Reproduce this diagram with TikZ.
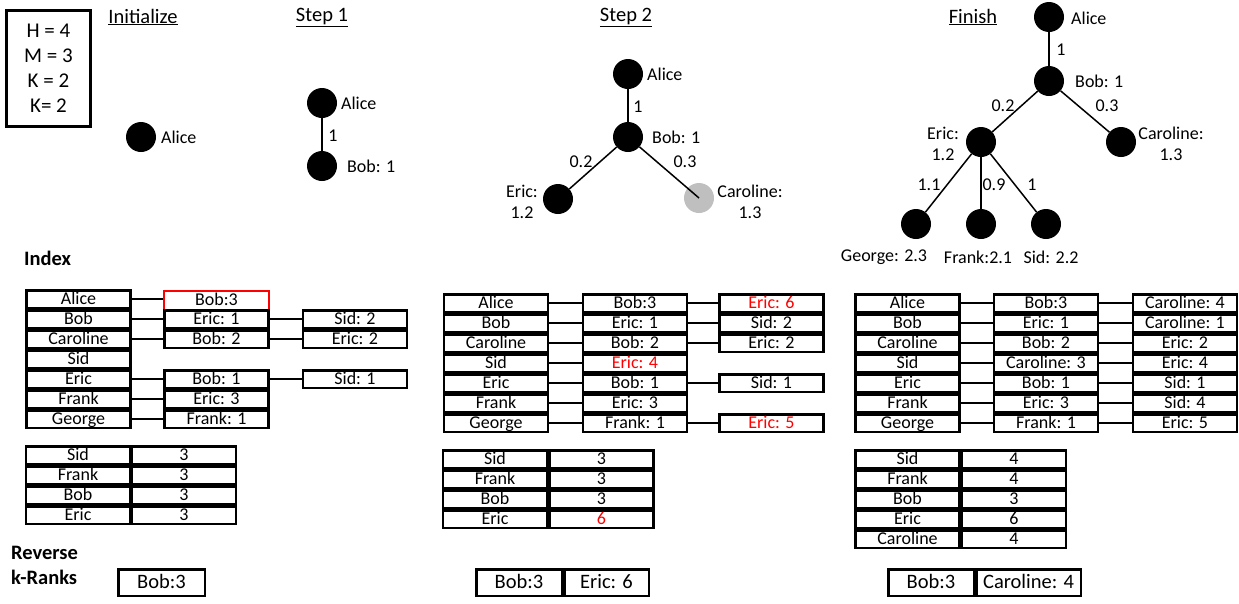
\documentclass[tikz,border=0pt]{standalone}
\usepackage{fontspec}
\setmainfont{Carlito}
\usepackage{xcolor}

\begin{document}
\begin{tikzpicture}[x=1pt, y=-1pt,
	dot/.style={circle, fill=black, minimum size=30pt, inner sep=0pt},
	lbl/.style={font=\fontsize{18}{21}\selectfont, inner sep=1pt, align=center},
	title/.style={font=\fontsize{20.5}{24}\selectfont, inner sep=0pt},
	cell/.style={draw, line width=2.5pt, minimum width=104pt, minimum height=17.5pt, inner sep=0pt,
		text height=12pt, text depth=1pt, font=\fontsize{18}{20}\selectfont},
	hit/.style={cell, draw=red, line width=2pt, minimum width=105pt, minimum height=19pt},
	rank/.style={draw, line width=2.5pt, minimum height=26.5pt, inner sep=0pt,
		text height=13pt, text depth=1pt, font=\fontsize{20.5}{24}\selectfont},
	link/.style={line width=1.2pt},
	edge/.style={line width=1.5pt}]
\useasboundingbox (0,0) rectangle (1239,603);

% parameters and titles
\node[draw, line width=3pt, minimum width=84pt, minimum height=116pt, align=center,
	font=\fontsize{21}{25}\selectfont] (par) at (48.5,68.5) {H = 4\\M = 3\\K = 2\\K= 2};
\node[title] (tinit) at (143,17) {\underline{Initialize}};
\node[title] (tone) at (322,17) {\underline{Step 1}};
\node[title] (ttwo) at (626,17) {\underline{Step 2}};
\node[title] (tfin) at (973,17) {\underline{Finish}};

% Initialize
\node[dot] (ia) at (141,137) {};
\node[lbl, anchor=west] (ial) at (160,137) {Alice};

% Step 1
\node[dot] (oa) at (322,103) {};
\node[dot] (ob) at (322,166) {};
\draw[edge] (oa) -- (ob);
\node[lbl] (oab) at (333,136) {1};
\node[lbl, anchor=west] (oal) at (340,103) {Alice};
\node[lbl, anchor=west] (obl) at (346,166) {Bob: 1};

% Step 2
\node[dot] (sa) at (628,74) {};
\node[dot] (sb) at (628,137) {};
\node[dot] (se) at (558,199) {};
\node[dot, fill=black!25] (sc) at (699,198) {};
\draw[edge] (sa) -- (sb);
\draw[edge] (sb) -- (se);
\draw[edge] (sb) -- (sc.center);
\node[lbl] (sab) at (638,107) {1};
\node[lbl] (sbe) at (581,162) {0.2};
\node[lbl] (sbc) at (685,162) {0.3};
\node[lbl, anchor=west] (sal) at (646,74) {Alice};
\node[lbl, anchor=west] (sbl) at (651,137) {Bob: 1};
\node[lbl] (sel) at (522,202) {Eric:\\1.2};
\node[lbl] (scl) at (750,202) {Caroline:\\1.3};

% Finish
\node[dot] (fa) at (1049,17) {};
\node[dot] (fb) at (1049,81) {};
\node[dot] (fe) at (981,142) {};
\node[dot] (fc) at (1121,142) {};
\node[dot] (fg) at (916,224) {};
\node[dot] (ff) at (981,224) {};
\node[dot] (fs) at (1046,224) {};
\draw[edge] (fa) -- (fb);
\draw[edge] (fb) -- (fe);
\draw[edge] (fb) -- (fc);
\draw[edge] (fe) -- (fg);
\draw[edge] (fe) -- (ff);
\draw[edge] (fe) -- (fs);
\node[lbl] (fab) at (1061,50) {1};
\node[lbl] (fbe) at (1003,106) {0.2};
\node[lbl] (fbc) at (1107,106) {0.3};
\node[lbl] (feg) at (929,185) {1.1};
\node[lbl] (fef) at (994,185) {0.9};
\node[lbl] (fes) at (1032,185) {1};
\node[lbl, anchor=west] (fal) at (1070,18) {Alice};
\node[lbl, anchor=west] (fbl) at (1074,81) {Bob: 1};
\node[lbl] (fel) at (943,144) {Eric:\\1.2};
\node[lbl] (fcl) at (1171,144) {Caroline:\\1.3};
\node[lbl] (fgl) at (884,257) {George: 2.3};
\node[lbl] (ffl) at (978,257) {Frank:2.1};
\node[lbl] (fsl) at (1051,257) {Sid: 2.2};

% Index
\node[title, font=\fontsize{20.5}{24}\selectfont\bfseries, anchor=west] (idx) at (24,258) {Index};

% index after Initialize
\node[cell] (in1) at (78.5,299) {Alice};
\node[cell] (in2) at (78.5,319) {Bob};
\node[cell] (in3) at (78.5,339) {Caroline};
\node[cell] (in4) at (78.5,359) {Sid};
\node[cell] (in5) at (78.5,379) {Eric};
\node[cell] (in6) at (78.5,399) {Frank};
\node[cell] (in7) at (78.5,419) {George};
\node[hit] (im1) at (216.5,300) {Bob:3};
\node[cell] (im2) at (216.5,319) {Eric: 1};
\node[cell] (im3) at (216.5,339) {Bob: 2};
\node[cell] (im5) at (216.5,379) {Bob: 1};
\node[cell] (im6) at (216.5,399) {Eric: 3};
\node[cell] (im7) at (216.5,419) {Frank: 1};
\node[cell] (ir2) at (355,319) {Sid: 2};
\node[cell] (ir3) at (355,339) {Eric: 2};
\node[cell] (ir5) at (355,379) {Sid: 1};
\draw[link] (in1.east) -- (im1.west |- in1.east);
\draw[link] (in2) -- (im2);
\draw[link] (in3) -- (im3);
\draw[link] (in5) -- (im5);
\draw[link] (in6) -- (im6);
\draw[link] (in7) -- (im7);
\draw[link] (im2) -- (ir2);
\draw[link] (im3) -- (ir3);
\draw[link] (im5) -- (ir5);

% index after Step 2
\node[cell] (sn1) at (496,303) {Alice};
\node[cell] (sn2) at (496,323) {Bob};
\node[cell] (sn3) at (496,343) {Caroline};
\node[cell] (sn4) at (496,363) {Sid};
\node[cell] (sn5) at (496,383) {Eric};
\node[cell] (sn6) at (496,403) {Frank};
\node[cell] (sn7) at (496,423) {George};
\node[cell] (sm1) at (635,303) {Bob:3};
\node[cell] (sm2) at (635,323) {Eric: 1};
\node[cell] (sm3) at (635,343) {Bob: 2};
\node[cell] (sm4) at (635,363) {\textcolor{red}{Eric: 4}};
\node[cell] (sm5) at (635,383) {Bob: 1};
\node[cell] (sm6) at (635,403) {Eric: 3};
\node[cell] (sm7) at (635,423) {Frank: 1};
\node[cell] (sr1) at (771.5,303) {\textcolor{red}{Eric: 6}};
\node[cell] (sr2) at (771.5,323) {Sid: 2};
\node[cell] (sr3) at (771.5,343) {Eric: 2};
\node[cell] (sr5) at (771.5,383) {Sid: 1};
\node[cell] (sr7) at (771.5,423) {\textcolor{red}{Eric: 5}};
\draw[link] (sn1) -- (sm1);
\draw[link] (sn2) -- (sm2);
\draw[link] (sn3) -- (sm3);
\draw[link] (sn4) -- (sm4);
\draw[link] (sn5) -- (sm5);
\draw[link] (sn6) -- (sm6);
\draw[link] (sn7) -- (sm7);
\draw[link] (sm1) -- (sr1);
\draw[link] (sm2) -- (sr2);
\draw[link] (sm3) -- (sr3);
\draw[link] (sm5) -- (sr5);
\draw[link] (sm7) -- (sr7);

% index at Finish
\node[cell] (fn1) at (907.5,303) {Alice};
\node[cell] (fn2) at (907.5,323) {Bob};
\node[cell] (fn3) at (907.5,343) {Caroline};
\node[cell] (fn4) at (907.5,363) {Sid};
\node[cell] (fn5) at (907.5,383) {Eric};
\node[cell] (fn6) at (907.5,403) {Frank};
\node[cell] (fn7) at (907.5,423) {George};
\node[cell] (fm1) at (1046,303) {Bob:3};
\node[cell] (fm2) at (1046,323) {Eric: 1};
\node[cell] (fm3) at (1046,343) {Bob: 2};
\node[cell] (fm4) at (1046,363) {Caroline: 3};
\node[cell] (fm5) at (1046,383) {Bob: 1};
\node[cell] (fm6) at (1046,403) {Eric: 3};
\node[cell] (fm7) at (1046,423) {Frank: 1};
\node[cell] (fr1) at (1185,303) {Caroline: 4};
\node[cell] (fr2) at (1185,323) {Caroline: 1};
\node[cell] (fr3) at (1185,343) {Eric: 2};
\node[cell] (fr4) at (1185,363) {Eric: 4};
\node[cell] (fr5) at (1185,383) {Sid: 1};
\node[cell] (fr6) at (1185,403) {Sid: 4};
\node[cell] (fr7) at (1185,423) {Eric: 5};
\draw[link] (fn1) -- (fm1);
\draw[link] (fn2) -- (fm2);
\draw[link] (fn3) -- (fm3);
\draw[link] (fn4) -- (fm4);
\draw[link] (fn5) -- (fm5);
\draw[link] (fn6) -- (fm6);
\draw[link] (fn7) -- (fm7);
\draw[link] (fm1) -- (fr1);
\draw[link] (fm2) -- (fr2);
\draw[link] (fm3) -- (fr3);
\draw[link] (fm4) -- (fr4);
\draw[link] (fm5) -- (fr5);
\draw[link] (fm6) -- (fr6);
\draw[link] (fm7) -- (fr7);

% counts
\node[cell] (ic1) at (78,455) {Sid};
\node[cell] (ic2) at (78,475) {Frank};
\node[cell] (ic3) at (78,495) {Bob};
\node[cell] (ic4) at (78,515) {Eric};
\node[cell] (iv1) at (184,455) {3};
\node[cell] (iv2) at (184,475) {3};
\node[cell] (iv3) at (184,495) {3};
\node[cell] (iv4) at (184,515) {3};

\node[cell] (sc1) at (495,459) {Sid};
\node[cell] (sc2) at (495,479) {Frank};
\node[cell] (sc3) at (495,499) {Bob};
\node[cell] (sc4) at (495,519) {Eric};
\node[cell] (sv1) at (601.5,459) {3};
\node[cell] (sv2) at (601.5,479) {3};
\node[cell] (sv3) at (601.5,499) {3};
\node[cell] (sv4) at (601.5,519) {\textcolor{red}{6}};

\node[cell] (fc1) at (907.5,459) {Sid};
\node[cell] (fc2) at (907.5,479) {Frank};
\node[cell] (fc3) at (907.5,499) {Bob};
\node[cell] (fc4) at (907.5,519) {Eric};
\node[cell] (fc5) at (907.5,539) {Caroline};
\node[cell] (fv1) at (1014,459) {4};
\node[cell] (fv2) at (1014,479) {4};
\node[cell] (fv3) at (1014,499) {3};
\node[cell] (fv4) at (1014,519) {6};
\node[cell] (fv5) at (1014,539) {4};

% reverse k-ranks
\node[title, font=\fontsize{20.5}{25}\selectfont\bfseries, align=left, anchor=west] (rev) at (11,565) {Reverse\\k-Ranks};
\node[rank, minimum width=86.5pt] (ik1) at (161.5,582.5) {Bob:3};
\node[rank, minimum width=85.5pt] (sk1) at (519,582.5) {Bob:3};
\node[rank, minimum width=84.5pt] (sk2) at (606.5,582.5) {Eric: 6};
\node[rank, minimum width=85.5pt] (fk1) at (931,582.5) {Bob:3};
\node[rank, minimum width=104.5pt] (fk2) at (1028.5,582.5) {Caroline: 4};
\end{tikzpicture}
\end{document}
